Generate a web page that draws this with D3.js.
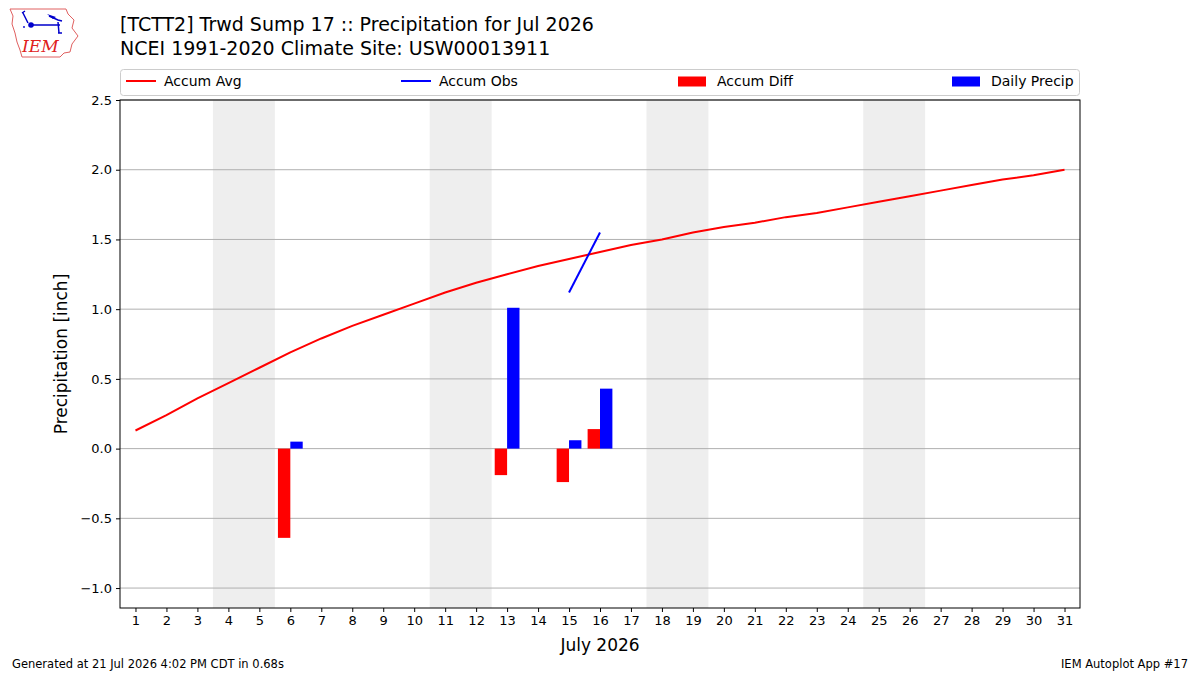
<!DOCTYPE html>
<html>
<head>
<meta charset="utf-8">
<script src="https://cdn.jsdelivr.net/npm/d3@7"></script>
<style>
  body { margin: 0; background: #fff; }
  svg text { font-family: "DejaVu Sans", sans-serif; fill: #000; }
</style>
</head>
<body>
<svg id="chart"></svg>
<script>
// Chart data
const days = d3.range(1, 32);
const accumAvg = [0.13, 0.24, 0.36, 0.47, 0.58, 0.69, 0.79, 0.88, 0.96, 1.04,
                  1.12, 1.19, 1.25, 1.31, 1.36, 1.41, 1.46, 1.50, 1.55, 1.59,
                  1.62, 1.66, 1.69, 1.73, 1.77, 1.81, 1.85, 1.89, 1.93, 1.96, 2.00];
const obsDays = [15, 16];
const accumObs = [1.12, 1.55];
const diffDays = [6, 13, 15, 16];
const accumDiff = [-0.64, -0.19, -0.24, 0.14];
const precipDays = [6, 13, 15, 16];
const dailyPrecip = [0.05, 1.01, 0.06, 0.43];
const weekendStarts = [4, 11, 18, 25]; // Sat of each weekend (2 days)
const yTicks = [-1.0, -0.5, 0.0, 0.5, 1.0, 1.5, 2.0, 2.5];

const width = 1200;
const height = 675;
const margin = { left: 120, right: 120, top: 100, bottom: 67 };

const svg = d3.select("#chart").attr("width", width).attr("height", height);

const x = d3.scaleLinear().domain([0.5, 31.5]).range([margin.left, width - margin.right]);
const y = d3.scaleLinear().domain([-1.143, 2.5]).range([height - margin.bottom, margin.top]);

// weekend shading
svg.append("g").selectAll("rect")
    .data(weekendStarts)
    .join("rect")
    .attr("x", d => x(d - 0.5))
    .attr("width", d => x(d + 1.5) - x(d - 0.5))
    .attr("y", margin.top)
    .attr("height", y.range()[0] - margin.top)
    .attr("fill", "#eeeeee");

// horizontal grid
svg.append("g").selectAll("line")
    .data(yTicks)
    .join("line")
    .attr("x1", x.range()[0]).attr("x2", x.range()[1])
    .attr("y1", d => y(d)).attr("y2", d => y(d))
    .attr("stroke", "#b0b0b0").attr("stroke-width", 1);

// bars: diff on the left, precip on the right of each day
const barW = 0.4;
svg.append("g").selectAll("rect")
    .data(diffDays.map((d, i) => ({ day: d, v: accumDiff[i] })))
    .join("rect")
    .attr("x", d => x(d.day - barW))
    .attr("width", d => x(d.day) - x(d.day - barW))
    .attr("y", d => y(Math.max(0, d.v)))
    .attr("height", d => Math.abs(y(d.v) - y(0)))
    .attr("fill", "#ff0000");

svg.append("g").selectAll("rect")
    .data(precipDays.map((d, i) => ({ day: d, v: dailyPrecip[i] })))
    .join("rect")
    .attr("x", d => x(d.day))
    .attr("width", d => x(d.day + barW) - x(d.day))
    .attr("y", d => y(Math.max(0, d.v)))
    .attr("height", d => Math.abs(y(d.v) - y(0)))
    .attr("fill", "#0000ff");

// lines
const line = d3.line().x(d => x(d[0])).y(d => y(d[1]));
svg.append("path")
    .datum(days.map((d, i) => [d, accumAvg[i]]))
    .attr("d", line)
    .attr("fill", "none").attr("stroke", "#ff0000").attr("stroke-width", 2);
svg.append("path")
    .datum(obsDays.map((d, i) => [d, accumObs[i]]))
    .attr("d", line)
    .attr("fill", "none").attr("stroke", "#0000ff").attr("stroke-width", 2);

// axes
const xAxis = svg.append("g")
    .attr("transform", `translate(0,${y.range()[0]})`)
    .call(d3.axisBottom(x).tickValues(days).tickSize(4).tickPadding(4));
const yAxis = svg.append("g")
    .attr("transform", `translate(${margin.left},0)`)
    .call(d3.axisLeft(y).tickValues(yTicks).tickSize(4).tickPadding(4)
        .tickFormat(d => d3.format(".1f")(d).replace("-", "\u2212")));
[xAxis, yAxis].forEach(a => {
    a.select(".domain").remove();
    a.selectAll("text").style("font-size", "13px").style("font-family", "DejaVu Sans");
    a.selectAll("line").attr("stroke", "#000");
});

// frame
svg.append("rect")
    .attr("x", margin.left).attr("y", margin.top)
    .attr("width", x.range()[1] - margin.left)
    .attr("height", y.range()[0] - margin.top)
    .attr("fill", "none").attr("stroke", "#000").attr("stroke-width", 1);

// axis labels
svg.append("text")
    .attr("x", x(16)).attr("y", 651)
    .attr("text-anchor", "middle").style("font-size", "17px")
    .text("July 2026");
svg.append("text")
    .attr("transform", `translate(67,${(margin.top + y.range()[0]) / 2}) rotate(-90)`)
    .attr("text-anchor", "middle").style("font-size", "17px")
    .text("Precipitation [inch]");

// title
svg.append("text").attr("x", 120).attr("y", 31).style("font-size", "19px")
    .text("[TCTT2] Trwd Sump 17 :: Precipitation for Jul 2026");
svg.append("text").attr("x", 120).attr("y", 55).style("font-size", "19px")
    .text("NCEI 1991-2020 Climate Site: USW00013911");

// legend
const legendItems = [
    { name: "Accum Avg", color: "#ff0000", type: "line", x: 126 },
    { name: "Accum Obs", color: "#0000ff", type: "line", x: 401 },
    { name: "Accum Diff", color: "#ff0000", type: "patch", x: 678 },
    { name: "Daily Precip", color: "#0000ff", type: "patch", x: 952 }
];
svg.append("rect")
    .attr("x", 120.5).attr("y", 69.5).attr("width", 959).attr("height", 26).attr("rx", 3)
    .attr("fill", "#fff").attr("stroke", "#cccccc");
const leg = svg.append("g").selectAll("g").data(legendItems).join("g");
leg.filter(d => d.type === "line").append("line")
    .attr("x1", d => d.x).attr("x2", d => d.x + 30)
    .attr("y1", 81).attr("y2", 81)
    .attr("stroke", d => d.color).attr("stroke-width", 2);
leg.filter(d => d.type === "patch").append("rect")
    .attr("x", d => d.x).attr("y", 76.5).attr("width", 28).attr("height", 10)
    .attr("fill", d => d.color);
leg.append("text")
    .attr("x", d => d.x + (d.type === "line" ? 38 : 39))
    .attr("y", 86).style("font-size", "14px")
    .text(d => d.name);

// footer
svg.append("text").attr("x", 12).attr("y", 668).style("font-size", "11.5px")
    .text("Generated at 21 Jul 2026 4:02 PM CDT in 0.68s");
svg.append("text").attr("x", 1188).attr("y", 668).attr("text-anchor", "end").style("font-size", "11.5px")
    .text("IEM Autoplot App #17");

// logo (rough Iowa outline)
const logo = svg.append("g");
logo.append("path")
    .attr("d", "M10,9 L66,9 L68,14 L74,20 L72,28 L78,36 L72,44 L70,52 L64,53 L60,57 L22,57 L20,50 L17,42 L15,33 L12,24 L13,16 Z")
    .attr("fill", "none").attr("stroke", "#e06060").attr("stroke-width", 1);
logo.append("path")
    .attr("d", "M22,13 L25,11 M23,13 L28,23 M30,25 L60,25 M49,16 L58,20 L62,21 M58,22 L59,33 M58,33 L62,33")
    .attr("fill", "none").attr("stroke", "#0000cc").attr("stroke-width", 1.5);
logo.append("path").attr("d", "M47,14 L56,17 L53,19 Z").attr("fill", "#0000cc");
logo.append("circle").attr("cx", 31).attr("cy", 25).attr("r", 2.8).attr("fill", "#0000cc");
logo.append("circle").attr("cx", 24).attr("cy", 27).attr("r", 0.9).attr("fill", "#0000cc");
logo.append("text").attr("x", 22).attr("y", 52)
    .style("font-family", "DejaVu Serif").style("font-style", "italic").style("font-size", "17px")
    .style("fill", "#e02020").text("IEM");
</script>
</body>
</html>
